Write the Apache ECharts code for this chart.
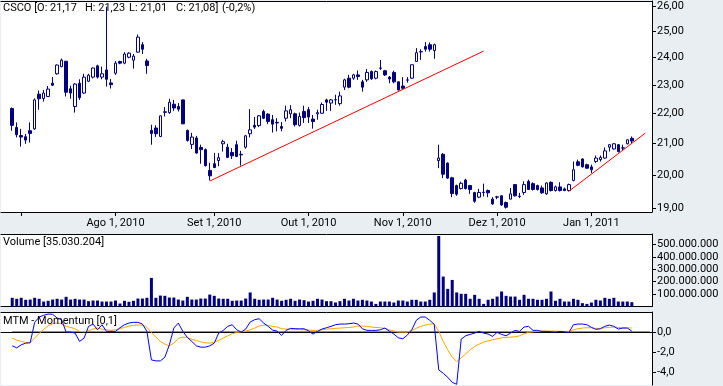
<!DOCTYPE html>
<html><head><meta charset="utf-8">
<script src="https://cdn.jsdelivr.net/npm/echarts@6/dist/echarts.min.js"></script>
<style>html,body{margin:0;padding:0;background:#E9EEF2;}#c{width:723px;height:386px;}</style>
</head><body><div id="c"></div>
<script>
const dates = [
'2010-06-29','2010-06-30',
'2010-07-01','2010-07-02','2010-07-06','2010-07-07','2010-07-08','2010-07-09','2010-07-12','2010-07-13','2010-07-14','2010-07-15','2010-07-16','2010-07-19','2010-07-20','2010-07-21','2010-07-22','2010-07-23','2010-07-26','2010-07-27','2010-07-28','2010-07-29','2010-07-30',
'2010-08-02','2010-08-03','2010-08-04','2010-08-05','2010-08-06','2010-08-09','2010-08-10','2010-08-11','2010-08-12','2010-08-13','2010-08-16','2010-08-17','2010-08-18','2010-08-19','2010-08-20','2010-08-23','2010-08-24','2010-08-25','2010-08-26','2010-08-27','2010-08-30','2010-08-31',
'2010-09-01','2010-09-02','2010-09-03','2010-09-07','2010-09-08','2010-09-09','2010-09-10','2010-09-13','2010-09-14','2010-09-15','2010-09-16','2010-09-17','2010-09-20','2010-09-21','2010-09-22','2010-09-23','2010-09-24','2010-09-27','2010-09-28','2010-09-29','2010-09-30',
'2010-10-01','2010-10-04','2010-10-05','2010-10-06','2010-10-07','2010-10-08','2010-10-11','2010-10-12','2010-10-13','2010-10-14','2010-10-15','2010-10-18','2010-10-19','2010-10-20','2010-10-21','2010-10-22','2010-10-25','2010-10-26','2010-10-27','2010-10-28','2010-10-29',
'2010-11-01','2010-11-02','2010-11-03','2010-11-04','2010-11-05','2010-11-08','2010-11-09','2010-11-10','2010-11-11','2010-11-12','2010-11-15','2010-11-16','2010-11-17','2010-11-18','2010-11-19','2010-11-22','2010-11-23','2010-11-24','2010-11-26','2010-11-29','2010-11-30',
'2010-12-01','2010-12-02','2010-12-03','2010-12-06','2010-12-07','2010-12-08','2010-12-09','2010-12-10','2010-12-13','2010-12-14','2010-12-15','2010-12-16','2010-12-17','2010-12-20','2010-12-21','2010-12-22','2010-12-23','2010-12-27','2010-12-28','2010-12-29','2010-12-30','2010-12-31',
'2011-01-03','2011-01-04','2011-01-05','2011-01-06','2011-01-07','2011-01-10','2011-01-11','2011-01-12','2011-01-13'];
const leadPad = ['2010-06-25','2010-06-28'];
const tailPad = ['2011-01-14','2011-01-18','2011-01-19','2011-01-20'];

const open = [22.17,21.53,21.26,21.22,21.42,21.48,22.67,22.52,22.59,23.06,23.40,23.66,23.86,22.86,22.24,23.06,22.71,23.13,23.28,23.69,23.28,23.54,23.07,23.42,23.85,23.79,24.01,23.90,24.20,24.48,23.87,
21.43,21.51,21.23,22.04,22.03,22.32,22.24,22.47,21.43,20.97,21.18,20.87,20.80,20.14,20.35,20.45,20.99,20.88,20.71,20.96,20.63,20.88,21.32,21.60,21.59,22.07,21.98,21.79,21.70,21.56,21.84,21.99,21.99,21.60,22.07,
22.13,21.81,21.99,22.01,22.47,22.36,22.47,22.34,22.92,23.24,23.24,23.36,23.11,23.18,23.48,23.24,23.60,23.51,23.28,23.45,23.11,22.96,23.17,23.24,23.85,24.21,24.41,24.48,24.26,
20.45,20.65,20.37,19.91,19.67,19.58,19.84,19.67,19.46,19.32,19.46,19.52,19.26,19.32,19.36,19.16,19.26,19.70,19.35,19.46,19.80,19.73,19.67,19.60,19.42,19.77,19.52,19.63,19.57,19.52,
19.83,20.41,20.50,20.32,20.25,20.42,20.48,20.53,20.88,20.82,20.96,20.85,20.99,21.17];
const high = [22.21,21.70,21.48,21.31,21.70,22.52,22.80,22.82,22.96,23.28,23.74,23.96,23.87,22.97,23.06,23.20,23.40,23.40,23.63,23.73,23.66,25.97,23.21,23.87,23.88,24.20,24.20,24.13,24.87,24.58,23.95,
21.62,21.60,21.93,22.22,22.51,22.47,22.36,22.48,21.46,21.35,21.25,20.96,20.84,20.38,20.69,20.69,21.12,20.99,20.85,21.09,20.76,21.28,22.15,21.88,21.95,22.13,22.01,21.95,21.84,21.71,22.27,22.29,22.03,22.03,22.27,
22.22,21.95,22.13,22.38,22.51,22.50,22.65,22.76,23.22,23.36,23.40,23.52,23.18,23.57,23.52,23.52,23.91,23.54,23.32,23.51,23.12,23.28,23.28,23.74,24.35,24.31,24.58,24.57,24.52,
20.96,20.69,20.39,19.94,19.70,19.79,19.88,19.69,19.48,19.57,19.73,19.55,19.32,19.36,19.38,19.19,19.60,19.71,19.45,19.80,19.85,19.77,19.70,19.67,19.77,19.80,19.67,19.77,19.61,19.73,
20.42,20.48,20.52,20.35,20.32,20.61,20.61,20.87,20.98,21.01,20.97,20.96,21.14,21.23];
const low = [21.42,21.20,20.90,20.99,21.03,21.45,22.13,22.41,22.57,22.96,23.37,23.64,22.59,22.51,22.03,22.47,22.68,23.10,23.23,23.23,23.20,22.94,22.87,23.36,23.75,23.75,23.97,23.59,24.18,24.13,23.40,
20.96,21.21,21.21,21.90,21.99,22.09,22.07,21.64,21.06,20.82,20.67,20.35,20.26,19.83,20.22,20.27,20.74,20.53,20.50,20.56,20.29,20.83,21.20,21.48,21.54,21.81,21.64,21.36,21.40,21.40,21.73,21.84,21.56,21.56,21.68,
21.68,21.49,21.79,21.99,22.09,22.09,22.30,22.27,22.82,22.88,23.18,23.18,22.76,23.11,23.18,23.20,23.54,23.32,23.06,23.06,22.80,22.82,23.08,23.21,23.84,23.91,24.22,24.22,23.95,
20.21,19.90,19.88,19.32,19.36,19.55,19.55,19.42,19.15,19.29,19.34,19.32,19.09,19.26,19.06,18.98,19.26,19.34,19.29,19.39,19.55,19.52,19.52,19.42,19.39,19.49,19.49,19.49,19.50,19.49,
19.80,20.27,20.23,20.19,20.06,20.37,20.42,20.51,20.74,20.80,20.71,20.77,20.97,21.01];
const close = [21.60,21.29,21.21,21.11,21.33,22.47,22.51,22.71,22.85,22.99,23.72,23.90,22.74,22.71,23.03,22.55,23.28,23.35,23.61,23.28,23.40,23.20,23.01,23.79,23.79,24.13,24.16,24.05,24.77,24.31,23.70,
21.33,21.32,21.92,22.06,22.39,22.19,22.15,21.65,21.10,21.21,20.69,20.80,20.29,19.97,20.23,20.54,21.06,20.55,20.60,20.58,20.65,21.25,21.45,21.54,21.92,21.84,21.73,21.64,21.68,21.50,22.09,22.13,21.62,21.90,21.86,
21.88,21.73,22.03,22.31,22.39,22.47,22.48,22.61,23.18,22.92,23.36,23.30,22.92,23.45,23.22,23.48,23.61,23.36,23.21,23.11,22.82,22.88,23.18,23.73,24.18,24.22,24.31,24.31,24.48,
20.53,20.02,19.90,19.43,19.41,19.74,19.58,19.55,19.20,19.46,19.47,19.45,19.12,19.33,19.09,19.02,19.42,19.36,19.34,19.70,19.55,19.55,19.55,19.45,19.75,19.52,19.63,19.52,19.52,19.70,
20.16,20.30,20.25,20.21,20.16,20.53,20.55,20.76,20.96,20.99,20.74,20.86,21.12,21.08];
// volume in millions of shares
const volumeM = [70,62,70,54,56,70,62,40,46,56,62,56,78,56,62,56,56,43,48,48,40,40,40,48,24,46,38,46,64,64,70,
230,70,88,86,72,72,56,48,78,56,56,64,64,96,86,64,62,62,46,48,48,64,113,62,54,56,56,70,56,46,54,62,46,56,51,
40,46,62,56,43,43,32,43,62,48,62,48,54,48,40,21,40,40,40,32,48,48,40,54,54,40,40,54,113,
568,241,142,214,113,102,102,62,94,62,21,54,62,80,121,86,80,80,54,94,62,62,54,54,62,121,46,62,40,40,
62,54,27,21,32,54,48,70,62,70,40,40,40,35];
const mtm = [-1.37,-1.57,-1.27,-1.10,-1.07,0.97,1.50,1.67,1.80,1.77,1.40,1.23,0.00,0.00,-0.10,-0.93,-0.60,0.57,0.80,0.23,0.73,0.07,0.07,0.07,0.43,0.73,0.90,0.97,0.97,0.80,0.07,
-2.77,-2.87,-2.87,-2.50,-1.27,0.40,0.90,0.07,-0.53,-0.93,-1.37,-1.50,-1.50,-1.37,-1.10,-0.10,0.17,0.57,0.73,0.23,0.00,0.30,1.00,1.23,1.33,0.90,0.57,0.20,0.10,-0.33,0.17,0.37,0.33,0.33,0.33,
0.13,-0.20,0.07,0.30,0.43,0.57,0.73,0.80,0.80,0.83,0.90,0.80,0.33,0.17,0.17,0.17,0.23,0.40,0.10,-0.20,-0.57,-0.67,-0.30,0.23,1.17,1.50,1.50,1.17,0.77,
-3.77,-4.10,-4.50,-5.00,-5.20,-0.70,-0.37,-0.23,-0.10,0.07,-0.10,-0.20,-0.43,-0.03,-0.23,-0.37,-0.10,0.17,0.07,0.50,0.57,0.17,0.17,0.07,0.07,0.03,0.00,0.07,0.03,-0.03,
0.73,0.80,0.80,0.73,0.47,0.27,0.33,0.57,0.70,0.57,0.30,0.40,0.40,0.10];
const mtmSignal = [-0.60,-0.80,-0.93,-1.03,-1.03,-0.60,-0.13,0.27,0.63,0.83,0.90,0.80,0.57,0.47,0.33,0.07,0.03,0.13,0.30,0.40,0.30,0.23,0.17,0.23,0.33,0.47,0.60,0.67,0.70,0.70,0.47,
-0.03,-0.50,-0.93,-1.20,-1.37,-1.10,-0.63,-0.50,-0.53,-0.73,-0.83,-0.97,-1.07,-1.10,-1.00,-0.83,-0.60,-0.37,-0.17,-0.03,0.03,0.10,0.23,0.40,0.60,0.70,0.67,0.57,0.50,0.33,0.30,0.30,0.30,0.23,0.23,
0.20,0.17,0.17,0.23,0.30,0.33,0.37,0.40,0.43,0.47,0.50,0.60,0.60,0.57,0.50,0.47,0.43,0.37,0.23,0.10,0.00,0.00,0.00,0.17,0.37,0.57,0.70,0.80,0.80,
0.07,-0.93,-1.77,-2.50,-2.93,-2.57,-2.17,-1.77,-1.43,-1.20,-1.00,-0.87,-0.77,-0.67,-0.57,-0.53,-0.50,-0.47,-0.37,-0.17,-0.03,0.03,0.07,0.10,0.10,0.10,0.10,0.07,0.07,0.07,
0.23,0.33,0.40,0.43,0.43,0.37,0.37,0.43,0.47,0.50,0.47,0.43,0.43,0.40];

const trend1 = [['2010-08-31', 19.81], ['2010-11-26', 24.24]];
const trend2 = [['2010-12-23', 19.50], ['2011-01-19', 21.34]];

const priceTicks = [19, 20, 21, 22, 23, 24, 25, 26];
const volumeTicksM = [100, 200, 300, 400, 500];
const mtmTicks = [0, -2, -4];
const monthTickDates = ['2010-07-01','2010-08-02','2010-09-01','2010-10-01','2010-11-01','2010-12-01','2010-12-31'];
const monthTickLabels = ['', 'Ago 1, 2010', 'Set 1, 2010', 'Out 1, 2010', 'Nov 1, 2010', 'Dez 1, 2010', 'Jan 1, 2011'];

// header text pieces (the quote summary)
const headerParts = ['CSCO [O: 21,17', 'H: 21,23', 'L: 21,01', 'C: 21,08]', '(-0,2%)'];
const headerLeft = [3, 85, 129, 176, 222];
const titleVol = 'Volume [35.030.204]';
const titleMtm = 'MTM - Momentum [0,1]';

const cats = leadPad.concat(dates, tailPad);
const NAVY = '#000080';
const FONT = 'Roboto';

const candleData = dates.map((d, i) => [d, open[i], close[i], low[i], high[i]]);
const volData = dates.map((d, i) => [d, volumeM[i]]);
const mtmData = dates.map((d, i) => [d, mtm[i]]);
const sigData = dates.map((d, i) => [d, mtmSignal[i]]);

const isTick = (idx, val) => monthTickDates.indexOf(val) >= 0;
const thousands = (n) => String(Math.round(n)).replace(/\B(?=(\d{3})+(?!\d))/g, '.');

function xAxisFor(grid, main) {
  return {
    type: 'category', gridIndex: grid, data: cats, boundaryGap: true, position: 'bottom',
    axisLine: { show: true, lineStyle: { color: '#000', width: 1 } },
    axisTick: { show: main, alignWithLabel: true, interval: isTick, length: 4, lineStyle: { color: '#000' } },
    axisLabel: { show: main, interval: isTick, margin: 6, color: '#000', fontSize: 11, fontFamily: FONT,
      formatter: (v) => { const k = monthTickDates.indexOf(v); return k >= 0 ? monthTickLabels[k] : ''; } },
    splitLine: { show: false }
  };
}
// top frame line of each panel
function topFrame(grid) {
  return {
    type: 'category', gridIndex: grid, data: cats, boundaryGap: true, position: 'top',
    axisLine: { show: true, lineStyle: { color: '#000', width: 1 } },
    axisTick: { show: false }, axisLabel: { show: false }, splitLine: { show: false }
  };
}
function yAxisBase(grid) {
  return {
    gridIndex: grid, position: 'right', scale: false,
    axisLine: { show: true, lineStyle: { color: '#000', width: 1 } },
    axisTick: { show: true, length: 4, lineStyle: { color: '#000' } },
    axisLabel: { color: '#000', fontSize: 11, fontFamily: FONT, margin: 5 },
    splitLine: { show: false }
  };
}

const yPrice = yAxisBase(0);
Object.assign(yPrice, { type: 'log', logBase: 10, min: 18.88, max: 26.2 });
yPrice.axisTick.customValues = priceTicks;
yPrice.axisLabel.customValues = priceTicks;
yPrice.axisLabel.formatter = (v) => Number(v).toFixed(2).replace('.', ',');

const yVol = yAxisBase(1);
Object.assign(yVol, { type: 'value', min: 0, max: 584 });
yVol.axisTick.customValues = volumeTicksM;
yVol.axisLabel.customValues = volumeTicksM;
yVol.axisLabel.formatter = (v) => thousands(v * 1000000);

const yMtm = yAxisBase(2);
Object.assign(yMtm, { type: 'value', min: -5.27, max: 2.0 });
yMtm.axisTick.customValues = mtmTicks;
yMtm.axisLabel.customValues = mtmTicks;
yMtm.axisLabel.formatter = (v) => Number(v).toFixed(1).replace('.', ',');

const gridStyle = { show: true, backgroundColor: '#fff', borderWidth: 0 };
const txt = (t, left, top) => ({ text: t, left: left, top: top, padding: 0,
  textStyle: { fontSize: 11, fontWeight: 'normal', color: '#000', fontFamily: FONT } });

const titles = headerParts.map((t, i) => txt(t, headerLeft[i], 3));
titles.push(txt(titleVol, 3, 237), txt(titleMtm, 3, 316));

const chart = echarts.init(document.getElementById('c'), null, { renderer: 'canvas' });
chart.setOption({
  animation: false,
  backgroundColor: '#E9EEF2',
  title: titles,
  grid: [
    Object.assign({ left: 1, top: 1, width: 651, height: 211 }, gridStyle),
    Object.assign({ left: 1, top: 234, width: 651, height: 72.5 }, gridStyle),
    Object.assign({ left: 1, top: 312, width: 651, height: 73 }, gridStyle)
  ],
  xAxis: [xAxisFor(0, true), xAxisFor(1, false), xAxisFor(2, false), topFrame(0), topFrame(1), topFrame(2)],
  yAxis: [yPrice, yVol, yMtm],
  series: [
    { type: 'candlestick', xAxisIndex: 0, yAxisIndex: 0, data: candleData, encode: { x: 0, y: [1, 2, 3, 4] },
      barWidth: 3,
      itemStyle: { color: '#fff', color0: NAVY, borderColor: NAVY, borderColor0: NAVY, borderWidth: 1 } },
    { type: 'line', xAxisIndex: 0, yAxisIndex: 0, data: trend1, symbol: 'none', lineStyle: { color: '#FF0000', width: 1 } },
    { type: 'line', xAxisIndex: 0, yAxisIndex: 0, data: trend2, symbol: 'none', lineStyle: { color: '#FF0000', width: 1 } },
    { type: 'bar', xAxisIndex: 1, yAxisIndex: 1, data: volData, barWidth: 3, itemStyle: { color: NAVY } },
    { type: 'line', xAxisIndex: 2, yAxisIndex: 2, data: [[dates[0], 0], [tailPad[tailPad.length - 1], 0]], symbol: 'none',
      lineStyle: { color: '#000', width: 1 } },
    { type: 'line', xAxisIndex: 2, yAxisIndex: 2, data: sigData, symbol: 'none', lineStyle: { color: '#FFA500', width: 1 } },
    { type: 'line', xAxisIndex: 2, yAxisIndex: 2, data: mtmData, symbol: 'none', lineStyle: { color: '#0000FF', width: 1 } }
  ]
});
</script></body></html>
